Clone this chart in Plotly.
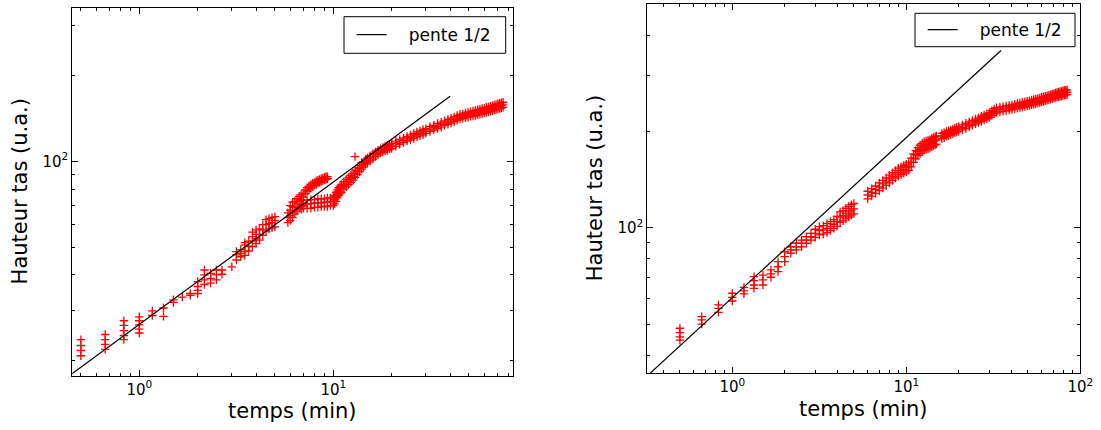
import plotly.graph_objects as go

# ---------------- data : left panel ----------------
left_early_t = [0.5, 0.5, 0.5, 0.5,
                0.667, 0.667, 0.667, 0.667,
                0.833, 0.833, 0.833, 0.833, 0.833,
                1.0, 1.0, 1.0, 1.0, 1.0,
                1.167, 1.167, 1.333, 1.333, 1.5, 1.5, 1.667, 1.833, 1.833,
                2.0, 2.0, 2.0, 2.0, 2.167, 2.167, 2.167, 2.167,
                2.333, 2.333, 2.333, 2.5, 2.5, 2.5, 2.667, 2.667, 3.0,
                3.167, 3.167, 3.167, 3.333, 3.333, 3.333,
                3.5, 3.5, 3.5, 3.5, 3.667, 3.667, 3.667,
                3.833, 3.833, 3.833, 3.833, 4.0, 4.0, 4.0, 4.0,
                4.167, 4.167, 4.167, 4.333, 4.333, 4.333, 4.5, 4.5, 4.5,
                4.667, 4.667, 4.667, 4.833, 4.833, 4.833, 5.0, 5.0, 5.0]
left_early_h = [20.8, 21.7, 22.6, 23.7,
                21.9, 22.8, 23.7, 24.7,
                23.7, 24.5, 25.5, 26.6, 27.6,
                25.0, 25.8, 26.7, 27.6, 28.5,
                28.8, 29.9, 28.6, 30.6, 32.0, 32.7, 33.4, 33.9, 34.4,
                34.4, 35.3, 36.4, 37.9, 37.0, 38.4, 40.0, 41.6,
                37.4, 38.9, 40.5, 38.4, 40.0, 41.6, 40.2, 41.6, 42.7,
                45.1, 47.0, 48.3, 46.3, 47.6, 49.0,
                46.8, 48.3, 50.9, 51.9, 48.5, 50.3, 52.5,
                50.3, 52.5, 54.5, 56.5, 51.5, 53.5, 55.5, 57.5,
                53.0, 55.5, 58.0, 55.0, 57.5, 60.0, 57.0, 60.0, 62.5,
                58.0, 60.5, 63.0, 58.5, 61.0, 63.5, 59.0, 62.0, 64.0]

# upper arm of the loop (5.8 - 9.3 min)
left_upper_t = [5.833, 5.833, 5.833, 6.0, 6.0, 6.0, 6.0, 6.167, 6.167, 6.167, 6.167,
                6.333, 6.333, 6.333, 6.5, 6.5, 6.5, 6.667, 6.667, 6.667,
                6.833, 6.833, 6.833, 7.0, 7.0, 7.0,
                7.167, 7.167, 7.333, 7.333, 7.5, 7.5, 7.667, 7.667, 7.833, 7.833,
                8.0, 8.0, 8.167, 8.167, 8.333, 8.333, 8.5, 8.5, 8.667, 8.667,
                8.833, 8.833, 9.0, 9.0, 9.167, 9.167, 9.333, 9.333]
left_upper_h = [61.0, 63.5, 66.0, 62.0, 64.5, 67.5, 70.0, 63.5, 66.5, 69.5, 72.0,
                65.5, 69.0, 72.5, 67.0, 71.0, 74.0, 68.5, 72.5, 75.5,
                69.5, 73.5, 76.5, 70.0, 75.0, 77.5,
                77.0, 79.5, 78.5, 81.0, 79.5, 82.0, 80.5, 83.0, 81.5, 84.0,
                82.5, 84.5, 83.0, 85.5, 84.0, 86.0, 84.5, 86.5, 85.0, 87.0,
                85.5, 87.5, 86.0, 88.0, 86.5, 88.5, 87.0, 88.5]

# lower arm of the loop and rise (6.8 - 14.3 min)
left_lower_t = [6.833, 6.833, 7.0, 7.0, 7.0, 7.333, 7.333, 7.333, 7.667, 7.667, 7.667,
                8.0, 8.0, 8.0, 8.333, 8.333, 8.333, 8.667, 8.667, 8.667,
                9.0, 9.0, 9.0, 9.333, 9.333, 9.333, 9.667, 9.667, 9.667,
                10.0, 10.0, 10.0, 10.167, 10.167, 10.167, 10.333, 10.333, 10.333,
                10.5, 10.5, 10.5, 10.667, 10.667, 10.667, 10.833, 10.833, 10.833,
                11.0, 11.0, 11.0, 11.333, 11.333, 11.333, 11.667, 11.667, 11.667,
                12.0, 12.0, 12.0, 12.333, 12.333, 12.333, 12.667, 12.667, 12.667,
                12.94,
                13.0, 13.0, 13.0, 13.333, 13.333, 13.333, 13.667, 13.667, 13.667,
                14.0, 14.0, 14.0, 14.333, 14.333]
left_lower_h = [68.0, 70.5, 68.5, 71.0, 73.0, 68.5, 71.0, 73.0, 68.5, 71.0, 73.5,
                69.0, 71.5, 73.5, 69.0, 71.5, 74.0, 69.5, 71.5, 74.0,
                69.5, 72.0, 74.0, 69.5, 72.0, 74.5, 70.0, 72.5, 74.5,
                70.0, 72.5, 75.0, 71.0, 73.5, 76.0, 72.5, 75.5, 78.0,
                74.5, 77.0, 79.5, 76.0, 78.5, 81.0, 77.0, 79.5, 82.0,
                78.0, 80.5, 83.0, 80.0, 82.5, 85.0, 81.5, 84.0, 86.5,
                83.0, 85.5, 88.0, 84.5, 87.0, 89.5, 86.0, 88.5, 91.0,
                104.0,
                88.0, 90.5, 93.0, 90.0, 92.5, 95.0, 92.0, 94.5, 97.0,
                94.0, 96.5, 99.0, 95.5, 98.0]

# late band (14.7 - 75 min): lower edge, middle and upper edge of the scatter
left_band_t = [14.67, 15.0, 15.5, 16.0, 16.5, 17.0, 17.5, 18.0, 18.5, 19.0, 19.5, 20.0,
               21.0, 22.0, 23.0, 24.0, 25.0, 26.0, 27.0, 28.0, 29.0, 30.0,
               31.5, 33.0, 34.5, 36.0, 37.5, 39.0, 40.5, 42.0, 43.5, 45.0,
               46.5, 48.0, 49.5, 51.0, 52.5, 54.0, 55.5, 57.0, 58.5, 60.0,
               61.5, 63.0, 64.5, 66.0, 67.5, 69.0, 70.5, 72.0, 73.5, 75.0]
left_band_lo = [98.0, 99.0, 100.5, 102.0, 104.0, 105.5, 107.0, 108.0, 109.0, 109.5, 110.5, 111.0,
                113.0, 115.0, 116.5, 118.0, 119.0, 120.5, 122.0, 123.0, 124.0, 125.5,
                127.5, 129.0, 130.5, 132.0, 134.0, 135.0, 136.5, 138.0, 139.5, 141.0,
                141.5, 142.5, 143.0, 144.0, 144.5, 145.0, 146.0, 146.5, 147.0, 148.0,
                148.5, 149.5, 150.0, 150.5, 151.5, 152.0, 153.0, 153.5, 154.0, 155.0]
left_band_mid = [100.0, 101.0, 102.5, 104.0, 106.0, 107.5, 109.0, 110.0, 111.0, 111.5, 112.5, 113.5,
                 115.5, 117.0, 118.5, 120.0, 121.5, 123.0, 124.5, 125.5, 127.0, 128.0,
                 130.0, 131.5, 133.0, 135.0, 136.5, 137.5, 139.0, 140.5, 142.0, 143.5,
                 144.5, 145.0, 146.0, 147.0, 147.5, 148.0, 149.0, 149.5, 150.0, 151.0,
                 152.0, 152.5, 153.0, 154.0, 154.5, 155.0, 156.0, 157.0, 157.5, 158.0]
left_band_hi = [102.0, 103.0, 104.5, 106.5, 108.0, 109.5, 111.0, 112.0, 113.0, 114.0, 115.0, 116.0,
                118.0, 119.5, 121.0, 122.5, 124.0, 125.5, 127.0, 128.0, 129.5, 130.5,
                132.5, 134.0, 136.0, 137.5, 139.0, 140.5, 142.0, 143.5, 145.0, 146.5,
                147.0, 148.0, 149.0, 149.5, 150.5, 151.0, 152.0, 152.5, 153.5, 154.0,
                155.0, 155.5, 156.5, 157.0, 158.0, 158.5, 159.5, 160.0, 161.0, 161.5]

# slope 1/2 reference line (left)
left_fit_t = [0.4, 40.0]
left_fit_h = [16.95, 169.5]

# ---------------- data : right panel ----------------
right_early_t = [0.5, 0.5, 0.5, 0.5, 0.667, 0.667, 0.667, 0.833, 0.833, 0.833,
                 1.0, 1.0, 1.0, 1.167, 1.167, 1.167, 1.333, 1.333, 1.333, 1.333,
                 1.5, 1.5, 1.5, 1.667, 1.667, 1.667, 1.833, 1.833, 1.833,
                 2.0, 2.0, 2.0, 2.167, 2.167, 2.167, 2.333, 2.333, 2.333,
                 2.5, 2.5, 2.5, 2.667, 2.667, 2.667, 2.833, 2.833, 2.833,
                 3.0, 3.0, 3.0, 3.167, 3.167, 3.167, 3.333, 3.333, 3.333,
                 3.5, 3.5, 3.5, 3.667, 3.667, 3.667, 3.833, 3.833, 3.833,
                 4.0, 4.0, 4.0, 4.167, 4.167, 4.167, 4.333, 4.333, 4.333,
                 4.5, 4.5, 4.5, 4.667, 4.667, 4.667, 4.833, 4.833, 4.833, 5.0, 5.0, 5.0]
right_early_h = [44.5, 45.6, 47.0, 48.5, 50.0, 51.5, 52.7, 54.4, 56.0, 57.4,
                 59.0, 60.6, 62.4, 62.1, 63.5, 65.1, 64.6, 66.2, 68.3, 70.3,
                 66.2, 68.7, 71.1, 70.0, 71.7, 73.8, 72.9, 75.5, 78.3,
                 78.3, 81.2, 84.1, 83.2, 85.2, 87.2, 85.2, 87.2, 89.4,
                 87.2, 89.4, 91.5, 89.4, 91.5, 93.7, 91.5, 93.7, 96.0,
                 93.3, 96.0, 98.9, 94.9, 97.9, 100.7, 95.5, 98.5, 101.5,
                 96.5, 99.5, 103.0, 98.0, 101.0, 104.5, 99.5, 102.5, 106.0,
                 101.0, 104.5, 108.5, 104.0, 108.0, 112.0, 105.0, 109.0, 113.0,
                 106.5, 110.5, 115.0, 108.0, 112.0, 116.5, 109.5, 113.5, 118.0, 110.5, 114.5, 119.0]

right_mid_t = [6.0, 6.333, 6.667, 7.0, 7.333, 7.667, 8.0, 8.333, 8.667, 9.0, 9.333, 9.667,
               10.0, 10.333, 10.667, 11.0, 11.333, 11.667, 12.0, 12.333, 12.667, 13.0,
               13.333, 13.667, 14.0, 14.333, 14.667, 14.9]
right_mid_lo = [123.0, 125.5, 128.0, 130.5, 133.0, 135.5, 138.0, 140.5, 143.0, 145.0, 146.5, 148.0,
                149.5, 151.0, 155.0, 160.0, 164.0, 168.0, 170.5, 172.5, 174.5, 175.5,
                176.5, 177.5, 179.0, 180.5, 181.5, 182.5]
right_mid_mid = [126.5, 129.0, 131.5, 134.0, 137.0, 139.0, 142.0, 144.5, 147.0, 149.0, 151.0, 152.0,
                 154.0, 155.5, 160.0, 165.0, 169.0, 173.0, 175.5, 178.0, 180.0, 181.0,
                 182.0, 183.0, 184.5, 186.0, 187.0, 188.0]
right_mid_hi = [130.0, 132.5, 135.0, 138.0, 140.5, 143.0, 146.0, 148.5, 151.0, 153.5, 155.0, 156.5,
                158.0, 160.0, 165.0, 170.0, 174.0, 178.0, 181.0, 183.5, 185.5, 186.5,
                187.5, 188.5, 190.0, 191.5, 192.5, 193.5]

right_band_t = [16.0, 16.5, 17.0, 17.5, 18.0, 18.5, 19.0, 19.5, 20.0, 21.0, 22.0, 23.0, 24.0,
                25.0, 26.0, 27.0, 28.0, 29.0, 30.0, 31.0, 32.0, 33.0, 34.5, 36.0, 37.5,
                39.0, 40.5, 42.0, 43.5, 45.0, 46.5, 48.0, 49.5, 51.0, 52.5, 54.0, 55.5,
                57.0, 58.5, 60.0, 61.5, 63.0, 64.5, 66.0, 67.5, 69.0, 70.5, 72.0, 73.5,
                75.0, 76.5, 78.0, 79.5, 81.0, 82.5, 84.0]
right_band_lo = [190.0, 191.0, 193.0, 194.0, 195.0, 196.5, 198.0, 199.0, 200.0, 202.0, 204.0, 206.5, 209.0,
                 211.0, 213.0, 215.0, 217.0, 219.0, 221.0, 224.0, 227.0, 229.0, 230.0, 231.0, 232.0,
                 233.0, 234.0, 235.0, 236.0, 237.0, 238.0, 239.0, 240.0, 241.0, 242.0, 243.0, 244.0,
                 245.0, 246.0, 247.0, 248.0, 249.0, 250.0, 251.0, 252.0, 253.0, 254.0, 255.0, 256.0,
                 256.5, 257.0, 258.0, 259.0, 259.5, 260.0, 260.5]
right_band_mid = [193.5, 194.5, 196.5, 197.5, 198.5, 200.0, 201.5, 202.5, 203.5, 205.5, 208.0, 210.0, 212.5,
                  214.5, 216.5, 219.0, 221.0, 223.0, 225.0, 228.0, 231.0, 233.0, 234.0, 235.0, 236.0,
                  237.0, 238.0, 239.0, 240.0, 241.0, 242.0, 243.0, 244.0, 245.0, 246.0, 247.0, 248.0,
                  249.0, 250.0, 251.0, 252.0, 253.0, 254.0, 255.0, 256.0, 257.0, 258.0, 259.0, 260.0,
                  261.0, 261.5, 262.5, 263.5, 264.0, 264.5, 265.0]
right_band_hi = [197.0, 198.0, 200.0, 201.0, 202.0, 203.5, 205.0, 206.0, 207.0, 209.5, 212.0, 214.0, 216.5,
                 218.5, 220.5, 223.0, 225.0, 227.0, 229.0, 232.0, 235.0, 237.0, 238.0, 239.0, 240.0,
                 241.0, 242.0, 243.0, 244.5, 245.5, 246.5, 247.5, 248.5, 249.5, 250.5, 251.5, 252.5,
                 253.5, 254.5, 255.5, 256.5, 257.5, 258.5, 259.5, 260.5, 261.5, 262.5, 263.5, 264.5,
                 265.5, 266.0, 267.0, 268.0, 268.5, 269.0, 269.5]

right_fit_t = [0.3, 35.0]
right_fit_h = [33.1, 357.9]

# ---------------- axes labels / ticks ----------------
x_title = "temps (min)"
y_title = "Hauteur tas (u.a.)"
legend_label = "pente 1/2"
left_xticks = [1, 10]
left_xticktext = ["10<sup>0</sup>", "10<sup>1</sup>"]
right_xticks = [1, 10, 100]
right_xticktext = ["10<sup>0</sup>", "10<sup>1</sup>", "10<sup>2</sup>"]
yticks = [100]
yticktext = ["10<sup>2</sup>"]
left_xminor = [0.5, 0.6, 0.7, 0.8, 0.9, 2, 3, 4, 5, 6, 7, 8, 9, 20, 30, 40, 50, 60, 70, 80]
right_xminor = [0.4, 0.5, 0.6, 0.7, 0.8, 0.9, 2, 3, 4, 5, 6, 7, 8, 9, 20, 30, 40, 50, 60, 70, 80, 90]
left_yminor = [20, 30, 40, 50, 60, 70, 80, 90, 200, 300]
right_yminor = [40, 50, 60, 70, 80, 90, 200, 300, 400]

FONT = "DejaVu Sans"
W, H = 1101, 430

marker = dict(symbol="cross-thin", size=6, color="red", line=dict(color="red", width=1.3))

fig = go.Figure()


def add_points(t, h, xa, ya):
    fig.add_trace(go.Scatter(x=t, y=h, mode="markers", marker=marker, xaxis=xa, yaxis=ya,
                             showlegend=False, hoverinfo="skip"))


# em-space gives the gap between the legend line sample and its label
legend_name = "\u2003" + legend_label

add_points(left_early_t, left_early_h, "x", "y")
add_points(left_upper_t, left_upper_h, "x", "y")
add_points(left_lower_t, left_lower_h, "x", "y")
add_points(left_band_t, left_band_lo, "x", "y")
add_points(left_band_t, left_band_mid, "x", "y")
add_points(left_band_t, left_band_hi, "x", "y")
fig.add_trace(go.Scatter(x=left_fit_t, y=left_fit_h, mode="lines", line=dict(color="black", width=1.2),
                         name=legend_name, xaxis="x", yaxis="y", legend="legend", hoverinfo="skip"))

add_points(right_early_t, right_early_h, "x2", "y2")
add_points(right_mid_t, right_mid_lo, "x2", "y2")
add_points(right_mid_t, right_mid_mid, "x2", "y2")
add_points(right_mid_t, right_mid_hi, "x2", "y2")
add_points(right_band_t, right_band_lo, "x2", "y2")
add_points(right_band_t, right_band_mid, "x2", "y2")
add_points(right_band_t, right_band_hi, "x2", "y2")
fig.add_trace(go.Scatter(x=right_fit_t, y=right_fit_h, mode="lines", line=dict(color="black", width=1.2),
                         name=legend_name, xaxis="x2", yaxis="y2", legend="legend2", hoverinfo="skip"))


def axis(dom, rng, tv, tt, minor_vals, anchor):
    return dict(type="log", domain=dom, range=rng, tickmode="array", tickvals=tv, ticktext=tt,
                ticks="inside", ticklen=6, tickwidth=1, tickcolor="black",
                showline=True, linecolor="black", linewidth=1, mirror="ticks",
                showgrid=False, zeroline=False, anchor=anchor, automargin=False,
                tickfont=dict(family=FONT, size=15, color="black"),
                minor=dict(tickmode="array", tickvals=minor_vals, ticks="inside", ticklen=3,
                           tickwidth=1, tickcolor="black", showgrid=False))


def legend_at(x_left, y_mid):
    return dict(x=x_left / W, xanchor="left", y=1 - y_mid / H, yanchor="middle",
                borderwidth=0, bgcolor="rgba(0,0,0,0)", itemwidth=30,
                font=dict(family=FONT, size=17, color="black"))


def box(x0, y0, x1, y1):
    return dict(type="rect", xref="paper", yref="paper", x0=x0 / W, x1=x1 / W,
                y0=1 - y1 / H, y1=1 - y0 / H, line=dict(color="black", width=1), layer="above")


def title(text, x, y, angle=0):
    return dict(text=text, x=x / W, y=1 - y / H, xref="paper", yref="paper", xanchor="center",
                yanchor="middle", textangle=angle, showarrow=False,
                font=dict(family=FONT, size=21, color="black"))


fig.update_layout(
    width=W, height=H, margin=dict(l=0, r=0, t=0, b=0, autoexpand=False),
    paper_bgcolor="white", plot_bgcolor="white",
    font=dict(family=FONT, color="black"),
    xaxis=axis([72.3 / W, 513.3 / W], [-0.3453, 1.9279], left_xticks, left_xticktext, left_xminor, "y"),
    yaxis=axis([1 - 375.7 / H, 1 - 8 / H], [1.248, 2.539], yticks, yticktext, left_yminor, "x"),
    xaxis2=axis([647.3 / W, 1080.3 / W], [-0.4885, 2.0], right_xticks, right_xticktext, right_xminor, "y2"),
    yaxis2=axis([1 - 373.3 / H, 1 - 4 / H], [1.545, 2.699], yticks, yticktext, right_yminor, "x2"),
    legend=legend_at(351.7, 35.0),
    legend2=legend_at(922.7, 30.0),
    shapes=[box(344.0, 16.7, 505.7, 53.3), box(915.0, 13.3, 1075.0, 46.7)],
    annotations=[
        title(x_title, 292.8, 411),
        title(x_title, 863.8, 409),
        title(y_title, 19.5, 191.9, -90),
        title(y_title, 594.5, 188.7, -90),
    ],
)

fig.write_html("out.html", config={"displayModeBar": False},
               post_script="document.body.style.margin='0px';document.body.style.overflow='hidden';")
